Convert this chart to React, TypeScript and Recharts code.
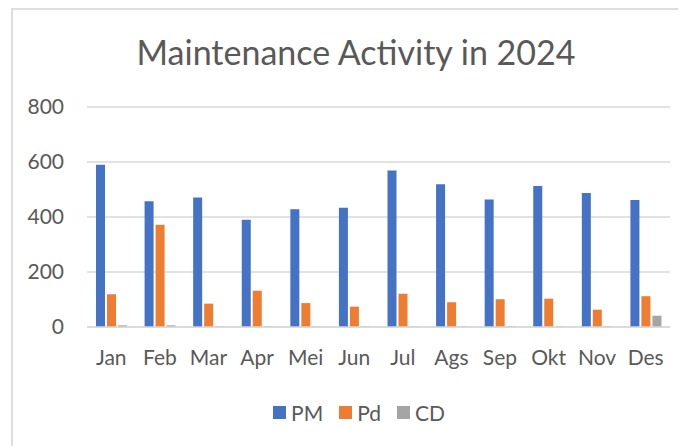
import React from 'react';
import { BarChart, Bar, XAxis, YAxis, CartesianGrid, Legend } from 'recharts';

const months = ['Jan', 'Feb', 'Mar', 'Apr', 'Mei', 'Jun', 'Jul', 'Ags', 'Sep', 'Okt', 'Nov', 'Des'];
const pm = [590, 457, 471, 390, 428, 434, 569, 519, 464, 513, 487, 462];
const pd = [119, 372, 85, 132, 87, 74, 121, 90, 101, 103, 63, 112];
const cd = [6, 6, 2, 2, 2, 2, 2, 2, 3, 2, 2, 41];
const yTicks = [0, 200, 400, 600, 800];
const seriesOrder = ['PM', 'Pd', 'CD'];

const data = months.map((m, i) => ({ month: m, PM: pm[i], Pd: pd[i], CD: cd[i] }));

const FONT = 'Lato, "Open Sans", sans-serif';
const TEXT = '#595959';

const renderLegend = (props: any) => {
  const items = [...(props.payload || [])].sort(
    (a: any, b: any) => seriesOrder.indexOf(a.value) - seriesOrder.indexOf(b.value)
  );
  return (
    <div style={{ display: 'flex', justifyContent: 'center', height: 30, alignItems: 'center', paddingLeft: 24 }}>
      {items.map((item: any) => (
        <div key={item.value} style={{ display: 'flex', alignItems: 'center', margin: '0 8px' }}>
          <span style={{ width: 13, height: 13, background: item.color, display: 'inline-block', marginRight: 5 }} />
          <span style={{ fontFamily: FONT, fontSize: 21, color: TEXT }}>{item.value}</span>
        </div>
      ))}
    </div>
  );
};

const App: React.FC = () => {
  return (
    <div style={{ position: 'relative', width: 678, height: 438, overflow: 'hidden' }}>
      <div
        style={{
          position: 'absolute',
          left: 3,
          top: 0,
          width: 740,
          height: 480,
          border: '2px solid #dedede',
          boxSizing: 'border-box',
        }}
      />
      <svg width={678} height={80} style={{ position: 'absolute', left: 0, top: 0 }}>
        <text x={348} y={57} textAnchor="middle" fontFamily={FONT} fontSize={34} fill={TEXT}>
          Maintenance Activity in 2024
        </text>
      </svg>
      <div style={{ position: 'absolute', left: 0, top: 0 }}>
        <BarChart
          width={678}
          height={438}
          data={data}
          margin={{ top: 99, right: 16, left: 0, bottom: 0 }}
          barSize={9}
          barGap={2}
        >
          <CartesianGrid vertical={false} stroke="#d9d9d9" strokeWidth={1.3} />
          <XAxis
            dataKey="month"
            height={89}
            tickSize={0}
            tickMargin={23}
            axisLine={{ stroke: '#d9d9d9', strokeWidth: 1.3 }}
            tick={{ fontFamily: FONT, fontSize: 21, fill: TEXT }}
            interval={0}
          />
          <YAxis
            width={79}
            domain={[0, 800]}
            ticks={yTicks}
            tickSize={0}
            tickMargin={23}
            axisLine={false}
            tick={{ fontFamily: FONT, fontSize: 21, fill: TEXT }}
          />
          <Legend
            verticalAlign="bottom"
            content={renderLegend}
            wrapperStyle={{ bottom: 19, left: 0, width: 678 }}
          />
          <Bar dataKey="PM" fill="#4472C4" isAnimationActive={false} />
          <Bar dataKey="Pd" fill="#ED7D31" isAnimationActive={false} />
          <Bar dataKey="CD" fill="#A5A5A5" isAnimationActive={false} />
        </BarChart>
      </div>
    </div>
  );
};

export default App;
